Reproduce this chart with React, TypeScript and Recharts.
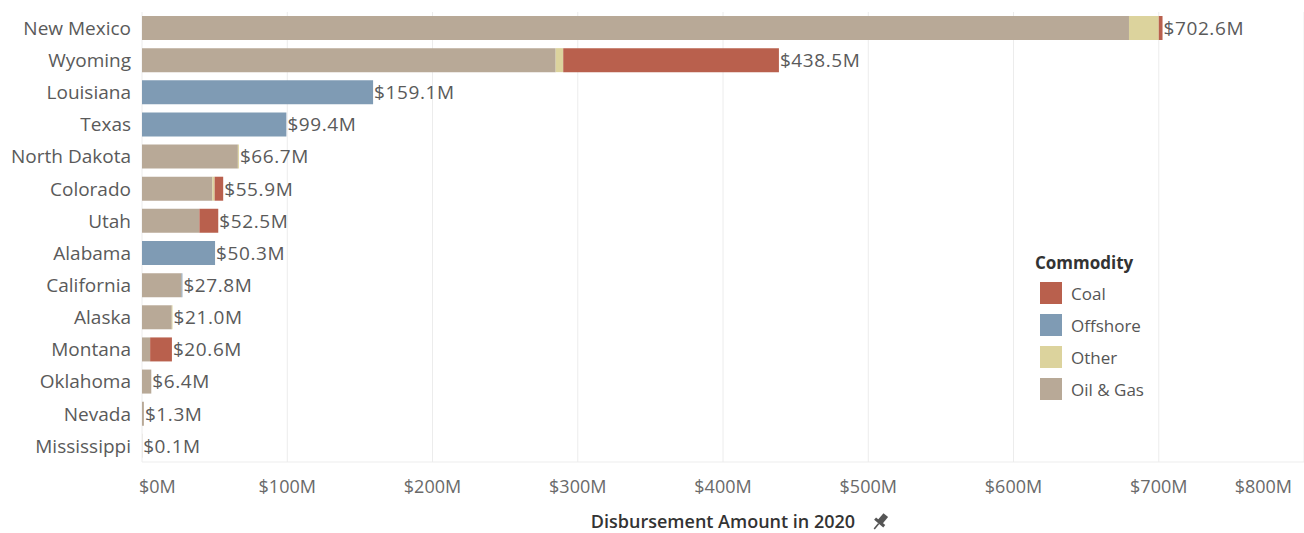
import { BarChart, Bar, XAxis, YAxis, CartesianGrid, LabelList, Label } from 'recharts'

const states = [
  'New Mexico', 'Wyoming', 'Louisiana', 'Texas', 'North Dakota', 'Colorado', 'Utah',
  'Alabama', 'California', 'Alaska', 'Montana', 'Oklahoma', 'Nevada', 'Mississippi',
]
// values in $M
const oilGas = [679.5, 284.8, 0, 0, 66.0, 48.5, 39.5, 0, 27.2, 20.5, 5.6, 6.4, 1.3, 0.1]
const offshore = [0, 0, 159.1, 99.4, 0, 0, 0, 50.3, 0.6, 0, 0, 0, 0, 0]
const other = [20.5, 5.2, 0, 0, 0.7, 1.5, 0, 0, 0, 0.5, 0, 0, 0, 0]
const coal = [2.6, 148.5, 0, 0, 0, 5.9, 13.0, 0, 0, 0, 15.0, 0, 0, 0]
const totals = [702.6, 438.5, 159.1, 99.4, 66.7, 55.9, 52.5, 50.3, 27.8, 21.0, 20.6, 6.4, 1.3, 0.1]
const xTicks = [0, 100, 200, 300, 400, 500, 600, 700, 800]

const legendItems = [
  { name: 'Coal', color: '#b9604d' },
  { name: 'Offshore', color: '#7f9bb4' },
  { name: 'Other', color: '#dcd39d' },
  { name: 'Oil & Gas', color: '#b8a997' },
]
const colorOf = (n: string) => legendItems.find((l) => l.name === n)!.color

// stack order, left to right
const seriesKeys = ['oilGas', 'offshore', 'other', 'coal']
const seriesNames: Record<string, string> = { oilGas: 'Oil & Gas', offshore: 'Offshore', other: 'Other', coal: 'Coal' }

const data = states.map((s, i) => ({
  state: s,
  oilGas: oilGas[i],
  offshore: offshore[i],
  other: other[i],
  coal: coal[i],
  total: totals[i],
}))

// which series ends each stack (the label goes after it)
const lastKeyOf: Record<string, string> = {}
data.forEach((d: any) => {
  let last = seriesKeys[0]
  seriesKeys.forEach((k) => {
    if (d[k] > 0) last = k
  })
  lastKeyOf[d.state] = last
})

const font = '"Open Sans", sans-serif'
const fmt = (v: number) => `$${v.toFixed(1)}M`

function endLabel(key: string) {
  return (props: any) => {
    const { x, y, width, height, value } = props
    if (lastKeyOf[value] !== key) return null
    const d = data.find((r) => r.state === value)!
    return (
      <text x={x + width + 1} y={y + height / 2} dy="0.36em" fill="#5a5a5a" fontSize={19} letterSpacing={0.6} fontFamily={font}>
        {fmt(d.total)}
      </text>
    )
  }
}

function XTick({ x, y, payload }: any) {
  const v = payload.value
  const anchor = v === 0 ? 'start' : v === 800 ? 'end' : 'middle'
  const dx = v === 0 ? -3 : 0
  return (
    <text x={x + dx} y={y} dy="0.71em" textAnchor={anchor} fill="#6a6a6a" fontSize={18} fontFamily={font}>
      {`$${v}M`}
    </text>
  )
}

function AxisTitle({ viewBox }: any) {
  const cx = viewBox.x + viewBox.width / 2
  const y = 522
  return (
    <g>
      <text x={cx} y={y} dy="0.35em" textAnchor="middle" fill="#333" fontSize={18} fontWeight={600} fontFamily={font}>
        Disbursement Amount in 2020
      </text>
      <g transform={`translate(${cx + 157}, ${y}) rotate(40)`} fill="#555">
        <rect x={-3} y={-9} width={6} height={9} />
        <rect x={-6} y={-1} width={12} height={3} />
        <rect x={-0.8} y={2} width={1.6} height={7} />
      </g>
    </g>
  )
}

function LegendBox() {
  return (
    <div style={{ position: 'absolute', left: 1035, top: 252, fontFamily: font, color: '#555' }}>
      <div style={{ fontSize: 17, fontWeight: 700, color: '#333', height: 22, lineHeight: '22px', marginBottom: 3 }}>Commodity</div>
      {legendItems.map((l) => (
        <div key={l.name} style={{ display: 'flex', alignItems: 'center', height: 32 }}>
          <div style={{ width: 22, height: 22, background: l.color, marginLeft: 5, marginRight: 9 }} />
          <span style={{ fontSize: 17 }}>{l.name}</span>
        </div>
      ))}
    </div>
  )
}

export default function App() {
  return (
    <div style={{ position: 'absolute', left: 0, top: 0, width: 1304, height: 533, background: '#fff' }}>
      <BarChart
        width={1304}
        height={533}
        data={data}
        layout="vertical"
        barSize={24}
        margin={{ top: 12, right: 0, left: 0, bottom: 0 }}
      >
        <CartesianGrid horizontal={false} stroke="#ececec" />
        <XAxis
          type="number"
          domain={[0, 800]}
          ticks={xTicks}
          height={71}
          tick={<XTick />}
          tickSize={0}
          tickMargin={18}
          tickLine={false}
          axisLine={{ stroke: '#ededed' }}
        >
          <Label content={<AxisTitle />} />
        </XAxis>
        <YAxis
          type="category"
          dataKey="state"
          width={142}
          tickSize={0}
          tickMargin={11}
          tickLine={false}
          axisLine={false}
          tick={{ fill: '#5a5a5a', fontSize: 19, fontFamily: font }}
          interval={0}
        />
        {seriesKeys.map((k) => (
          <Bar key={k} dataKey={k} name={seriesNames[k]} stackId="a" fill={colorOf(seriesNames[k])} isAnimationActive={false}>
            <LabelList dataKey="state" content={endLabel(k)} />
          </Bar>
        ))}
      </BarChart>
      <LegendBox />
    </div>
  )
}
